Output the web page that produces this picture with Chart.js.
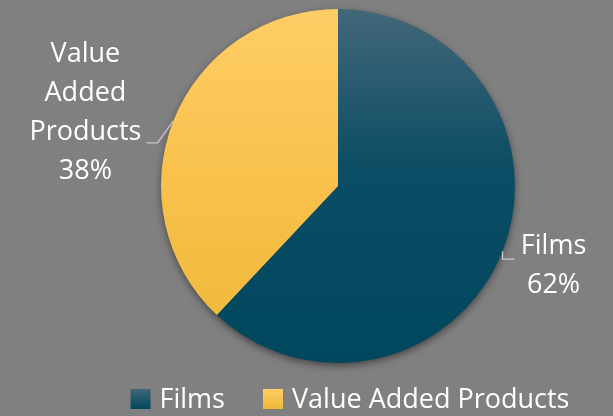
<!DOCTYPE html>
<html>
<head>
<meta charset="utf-8">
<script src="https://cdn.jsdelivr.net/npm/chart.js@4.4.1/dist/chart.umd.min.js"></script>
<style>
  html, body { margin: 0; padding: 0; background: #808080; }
  #wrap { width: 613px; height: 416px; }
</style>
</head>
<body>
<div id="wrap"><canvas id="pie" width="613" height="416"></canvas></div>
<script>
// --- Data ---
const categories = ['Films', 'Value Added Products'];
const shares = [62, 38];
const labelLines = [['Films'], ['Value', 'Added', 'Products']];

// gradient stops (top -> bottom of the pie)
const sliceColors = [
    ['#436779', '#0b4d64', '#00475e'],
    ['#ffcd66', '#f8c24d', '#eeb838']
];

const FONT = '"Open Sans", "Noto Sans", sans-serif';
const TEXT_SIZE = 27;

function makeGradient(ctx, area, stops) {
    const g = ctx.createLinearGradient(0, area.top, 0, area.bottom);
    g.addColorStop(0, stops[0]);
    g.addColorStop(0.45, stops[1]);
    g.addColorStop(1, stops[2]);
    return g;
}

// drop shadow under the whole pie
const shadowPlugin = {
    id: 'pieShadow',
    beforeDatasetsDraw(chart) {
        const arc = chart.getDatasetMeta(0).data[0];
        if (!arc) return;
        const ctx = chart.ctx;
        ctx.save();
        ctx.shadowColor = 'rgba(0,0,0,0.55)';
        ctx.shadowBlur = 9;
        ctx.shadowOffsetY = 3;
        ctx.fillStyle = '#555';
        ctx.beginPath();
        ctx.arc(arc.x, arc.y, arc.outerRadius - 1, 0, Math.PI * 2);
        ctx.fill();
        ctx.restore();
    }
};

// outside labels with leader lines
const labelPlugin = {
    id: 'outsideLabels',
    afterDatasetsDraw(chart) {
        const ctx = chart.ctx;
        const meta = chart.getDatasetMeta(0);
        ctx.save();
        ctx.font = TEXT_SIZE + 'px ' + FONT;
        ctx.fillStyle = '#ffffff';
        ctx.textAlign = 'center';
        ctx.textBaseline = 'middle';
        ctx.strokeStyle = '#c9c9c9';
        ctx.lineWidth = 1.3;
        meta.data.forEach((arc, i) => {
            const mid = (arc.startAngle + arc.endAngle) / 2;
            const ex = arc.x + Math.cos(mid) * arc.outerRadius;
            const ey = arc.y + Math.sin(mid) * arc.outerRadius;
            const lines = labelLines[i].concat([shares[i] + '%']);
            const lh = 39;
            let cx, cy;
            ctx.beginPath();
            if (Math.cos(mid) > 0) {
                // right side label
                ctx.moveTo(ex, ey);
                ctx.lineTo(ex, ey + 8);
                ctx.lineTo(ex + 12, ey + 8);
                cx = ex + 51;
                cy = ey + 15;
            } else {
                ctx.moveTo(ex, ey);
                ctx.lineTo(ex - 16, ey + 22);
                ctx.lineTo(ex - 27, ey + 22);
                cx = ex - 88;
                cy = ey - 8;
            }
            ctx.stroke();
            const top = cy - (lines.length - 1) * lh / 2;
            lines.forEach((t, k) => ctx.fillText(t, cx, top + k * lh));
        });
        ctx.restore();
    }
};

// legend with gradient swatches
const legendPlugin = {
    id: 'bottomLegend',
    afterDraw(chart) {
        const ctx = chart.ctx;
        ctx.save();
        ctx.font = TEXT_SIZE + 'px ' + FONT;
        ctx.textBaseline = 'middle';
        ctx.textAlign = 'left';
        const box = 20, gap = 9, spacing = 38, y = 399;
        let total = 0;
        categories.forEach((c, i) => {
            total += box + gap + ctx.measureText(c).width + (i < categories.length - 1 ? spacing : 0);
        });
        let x = 350 - total / 2;
        categories.forEach((c, i) => {
            const g = ctx.createLinearGradient(0, y - box / 2, 0, y + box / 2);
            g.addColorStop(0, sliceColors[i][0]);
            g.addColorStop(1, sliceColors[i][2]);
            ctx.fillStyle = g;
            ctx.fillRect(x, y - box / 2, box, box);
            x += box + gap;
            ctx.fillStyle = '#ffffff';
            ctx.fillText(c, x, y + 1);
            x += ctx.measureText(c).width + spacing;
        });
        ctx.restore();
    }
};

const ctx = document.getElementById('pie').getContext('2d');
new Chart(ctx, {
    type: 'pie',
    data: {
        labels: categories,
        datasets: [{
            data: shares,
            backgroundColor: (c) => {
                const area = c.chart.chartArea;
                if (!area) return sliceColors[c.dataIndex][1];
                return makeGradient(c.chart.ctx, area, sliceColors[c.dataIndex]);
            },
            borderWidth: 0
        }]
    },
    options: {
        responsive: false,
        animation: false,
        layout: { padding: { top: 9, bottom: 53, left: 63, right: 0 } },
        plugins: {
            legend: { display: false },
            tooltip: { enabled: false }
        }
    },
    plugins: [shadowPlugin, labelPlugin, legendPlugin]
});
</script>
</body>
</html>
